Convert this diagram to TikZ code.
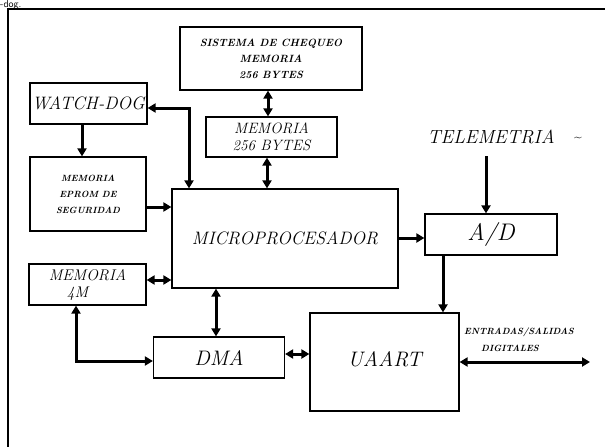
\documentclass[tikz,border=0pt]{standalone}
\usepackage{tikz}
\usetikzlibrary{arrows.meta, positioning}

\tikzset{
  blk/.style={draw, line width=1.2pt, inner sep=0pt, align=center, font=\itshape},
  bus/.style={line width=3pt, -{Triangle[length=8pt,width=9pt]}},
  bibus/.style={line width=3pt, {Triangle[length=8pt,width=9pt]}-{Triangle[length=8pt,width=9pt]}},
  tiny/.style={font=\fontsize{8.5}{16}\selectfont\bfseries\itshape},
}

\begin{document}
\begin{tikzpicture}[x=1pt, y=-1pt]
\useasboundingbox (0,0) rectangle (605,447);
\clip (0,0) rectangle (605,447);

% Frame
\draw[line width=1.3pt] (8,447) -- (8,9) -- (605,9);
\node[anchor=base west, inner sep=0pt, font=\sffamily\fontsize{10}{10}\selectfont] (cap) at (0,8) {-dog.};

% Blocks
\node[blk, tiny, font=\fontsize{10.5}{16}\selectfont\bfseries\itshape, minimum width=182pt, minimum height=63pt] (sist) at (271,58.5) {SISTEMA DE CHEQUEO\\MEMORIA\\256 BYTES};
\node[blk, minimum width=117pt, minimum height=41pt, font=\itshape\fontsize{18}{20}\selectfont] (wdog) at (88.5,103.5) {WATCH-DOG};
\node[blk, minimum width=131pt, minimum height=40pt, font=\itshape\fontsize{15}{17}\selectfont] (mem256) at (271.5,137) {MEMORIA\\256 BYTES};
\node[blk, tiny, font=\fontsize{9}{16}\selectfont\bfseries\itshape, minimum width=116pt, minimum height=74pt] (eprom) at (88,194) {MEMORIA\\EPROM DE\\SEGURIDAD};
\node[blk, minimum width=226pt, minimum height=99pt, font=\itshape\fontsize{18}{20}\selectfont] (micro) at (285,238.5) {MICROPROCESADOR};
\node[blk, minimum width=132pt, minimum height=41pt, font=\itshape\fontsize{24}{26}\selectfont] (ad) at (491,234.5) {A/D};
\node[blk, minimum width=117pt, minimum height=41pt, font=\itshape\fontsize{15.5}{17}\selectfont] (mem4m) at (87.5,284.5) {MEMORIA\\\hspace*{-20pt}4M};
\node[blk, minimum width=131pt, minimum height=41pt, font=\itshape\fontsize{21}{22}\selectfont] (dma) at (219,357.5) {DMA};
\node[blk, minimum width=149pt, minimum height=98pt, font=\itshape\fontsize{21}{22}\selectfont] (uaart) at (384.5,362) {\raisebox{7pt}{UAART}};

% Outside labels
\node[font=\itshape\fontsize{19}{20}\selectfont, inner sep=0pt] (tele) at (491,137) {TELEMETRIA};
\node[font=\fontsize{14}{14}\selectfont, inner sep=0pt] (tilde) at (578,139) {\textasciitilde};
\node[tiny, font=\fontsize{9}{17}\selectfont\bfseries\itshape, align=center, inner sep=0pt] (iolab) at (519,340) {ENTRADAS/SALIDAS\\\hspace*{-18pt}DIGITALES};

% Connectors
\coordinate (wc) at (189,108);
\draw[bibus] (wdog.east |- wc) -- (wc) -- (micro.north -| wc);
\draw[bibus] (sist.south -| 268,0) -- (mem256.north -| 268,0);
\draw[bibus] (mem256.south -| 267,0) -- (micro.north -| 267,0);
\draw[bus] (wdog.south -| 82,0) -- (eprom.north -| 82,0);
\draw[bus] (eprom.east |- 0,207) -- (micro.west |- 0,207);
\draw[bibus] (mem4m.east |- 0,280) -- (micro.west |- 0,280);
\draw[bibus] (micro.south -| 216,0) -- (dma.north -| 216,0);
\coordinate (mc) at (76,361);
\draw[bibus] (mem4m.south -| mc) -- (mc) -- (dma.west |- mc);
\draw[bibus] (dma.east |- 0,354) -- (uaart.west |- 0,354);
\draw[bus] (micro.east |- 0,238) -- (ad.west |- 0,238);
\draw[bus, shorten <=12pt] (tele.south -| 486,0) -- (ad.north -| 486,0);
\draw[bus] (ad.south -| 443,0) -- (uaart.north -| 443,0);
\coordinate (io) at (590,362);
\draw[bibus] (uaart.east |- io) -- (io);

\end{tikzpicture}
\end{document}
